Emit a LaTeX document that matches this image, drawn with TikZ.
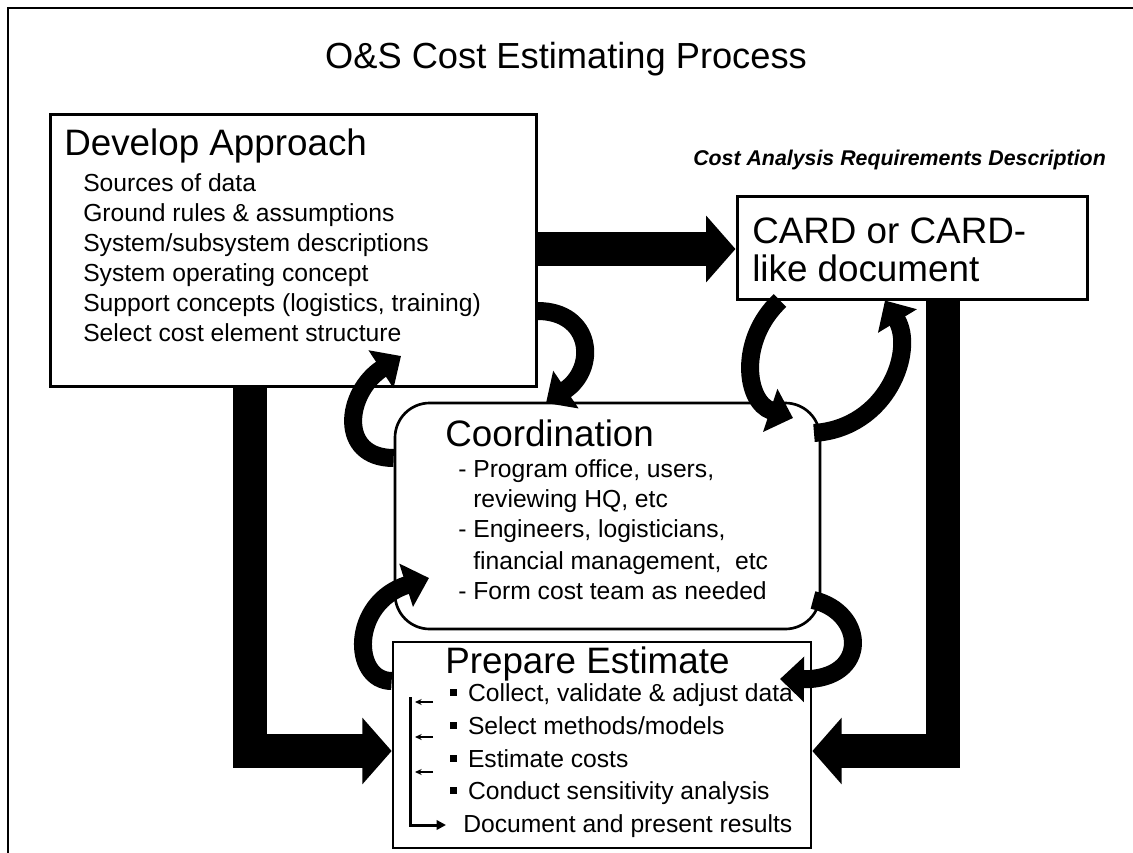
\documentclass[tikz,border=0pt]{standalone}
\usepackage{fontspec}
\setmainfont{Liberation Sans}
\usetikzlibrary{arrows.meta,fit,calc}
\begin{document}
\begin{tikzpicture}[x=0.75pt,y=-0.75pt,
  box/.style={draw, line width=2.25pt, inner sep=0pt},
  big/.style={font=\fontsize{27.6pt}{33pt}\selectfont, inner sep=0pt, anchor=base west},
  small/.style={font=\fontsize{18.5pt}{22pt}\selectfont, inner sep=0pt, anchor=base west},
  fatarrow/.style={line width=25.5pt, line join=miter, -{Triangle[length=22pt,width=48.75pt]}},
  curvarrow/.style={line width=13.5pt, -{Triangle[length=18pt,width=33pt]}},
  tick/.style={line width=0.9pt, -{Stealth[length=5pt,width=4.5pt]}},
  bracketline/.style={line width=2.25pt, -{Triangle[length=7pt,width=7pt]}},
]
\useasboundingbox (0,0) rectangle (1133,853);
% frame
\draw[line width=2pt] (8,853) -- (8,8) -- (1133,8);

% title
\node[font=\fontsize{27.2pt}{32pt}\selectfont, inner sep=0pt, anchor=base] (title) at (566,68) {O\&S Cost Estimating Process};

% boxes
\node[box, fit={(50,114) (536,386)}] (dev) {};
\node[box, fit={(737,196) (1087,299)}] (card) {};
\node[box, line width=2pt, rounded corners=26pt, fit={(395,403) (820,629)}] (coord) {};
\node[box, line width=2pt, fit={(393,642) (811,848)}] (prep) {};

% Develop Approach text
\node[big] (devtitle) at (64,155) {Develop Approach};
\node[small] (d1) at (83,191) {Sources of data};
\node[small] (d2) at (83,221) {Ground rules \& assumptions};
\node[small] (d3) at (83,251) {System/subsystem descriptions};
\node[small] (d4) at (83,281) {System operating concept};
\node[small] (d5) at (83,311) {Support concepts (logistics, training)};
\node[small] (d6) at (83,341) {Select cost element structure};

% CARD text
\node[font=\fontsize{16pt}{19pt}\selectfont\bfseries\itshape, inner sep=0pt, anchor=base west] (cardlabel) at (693,165) {Cost Analysis Requirements Description};
\node[big] (card1) at (752,243) {CARD or CARD-};
\node[big] (card2) at (752,281) {like document};

% Coordination text
\node[big] (coordtitle) at (445,446) {Coordination};
\node[small] (c1) at (458,477) {- Program office, users,};
\node[small] (c2) at (473,507) {reviewing HQ, etc};
\node[small] (c3) at (458,537) {- Engineers, logisticians,};
\node[small] (c4) at (473,569) {financial management,\ \ etc};
\node[small] (c5) at (458,599) {- Form cost team as needed};

% Prepare Estimate text
\newcommand{\sqbul}{\rule[0.22em]{0.27em}{0.27em}\hspace{0.45em}}
\node[big] (preptitle) at (445,673) {Prepare Estimate};
\node[small] (p1) at (450,701) {\sqbul Collect, validate \& adjust data};
\node[small] (p2) at (450,734) {\sqbul Select methods/models};
\node[small] (p3) at (450,767) {\sqbul Estimate costs};
\node[small] (p4) at (450,799) {\sqbul Conduct sensitivity analysis};
\node[small] (p5) at (463,832) {Document and present results};

% small arrows and bracket
\draw[tick] (433,702) -- (415,702);
\draw[tick] (433,737) -- (415,737);
\draw[tick] (433,772) -- (415,772);
\coordinate (brtop) at (410,697);
\coordinate (brend) at (446,825);
\draw[bracketline] (brtop) |- (brend);

% big straight arrows
\draw[fatarrow] (dev.east |- 0,249) -- (card.west |- 0,249);
\draw[fatarrow] (dev.south -| 249.5,0) |- (prep.west |- 0,751);
\draw[fatarrow] (card.south -| 943,0) |- (prep.east |- 0,751);

% curved arrows
\coordinate (h1) at (546,403);
\draw[curvarrow] (dev.east |- 0,311) .. controls (592,311) and (598,368) .. (h1);
\coordinate (h2) at (401,356);
\draw[curvarrow] (coord.west |- 0,458) .. controls (338,458) and (345,393) .. (h2);
\coordinate (h3) at (793,418);
\draw[curvarrow] (card.south -| 780,0) .. controls (738,340) and (745,402) .. (h3);
\coordinate (t4) at (814,433);
\draw[curvarrow] (t4) .. controls (888,428) and (915,350) .. (card.south -| 885,0);
\coordinate (h5) at (429,578);
\draw[curvarrow] (prep.west |- 0,681) .. controls (352,681) and (350,603) .. (h5);
\coordinate (t6) at (813,600);
\coordinate (h6) at (780,679);
\draw[curvarrow] (t6) .. controls (866,612) and (870,680) .. (h6);
\end{tikzpicture}
\end{document}
